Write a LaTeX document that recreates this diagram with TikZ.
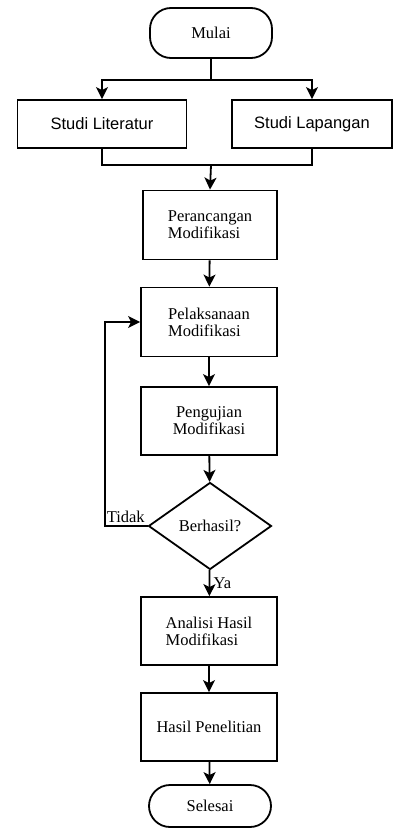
\documentclass[tikz,border=0pt]{standalone}
\usepackage{fontspec}
\setmainfont{Liberation Serif}
\newfontfamily\arialfont{Liberation Sans}
\usetikzlibrary{shapes.geometric,arrows.meta}

\tikzset{
    flow/.style={line width=1.8pt, -{Stealth[length=12pt,width=12pt,inset=3pt]}},
    proc/.style={draw, line width=1.8pt, align=center, font=\fontsize{16.5}{17}\selectfont},
    term/.style={proc, rounded corners=21pt},
}

\begin{document}
\begin{tikzpicture}[x=1pt, y=-1pt]
    \useasboundingbox (0,0) rectangle (393,830);
    % start
    \node[term, minimum width=122pt, minimum height=50pt] (mulai) at (211,33) {Mulai};
    \node[proc, minimum width=169pt, minimum height=48pt, font=\arialfont\fontsize{16.5}{18}\selectfont] (lit) at (102,124) {Studi Literatur};
    \node[proc, minimum width=160pt, minimum height=48pt, font=\arialfont\fontsize{16.5}{18}\selectfont] (lap) at (312,124) {Studi Lapangan};
    \coordinate (split) at (211,80);
    \coordinate (join) at (211,165);
    % main column
    \node[proc, align=left, minimum width=134pt, minimum height=69pt] (per) at (210,225) {Perancangan\\Modifikasi};
    \node[proc, align=left, minimum width=136pt, minimum height=69pt] (pel) at (209,322) {Pelaksanaan\\Modifikasi};
    \node[proc, minimum width=136pt, minimum height=68pt] (pen) at (209,421) {Pengujian\\Modifikasi};
    \node[proc, diamond, aspect=1.4, inner sep=1pt, minimum width=123pt, minimum height=87pt] (ber) at (210,526) {Berhasil?};
    \node[proc, align=left, minimum width=136pt, minimum height=68pt] (ana) at (209,631) {Analisi Hasil\\Modifikasi};
    \node[proc, minimum width=136pt, minimum height=68pt] (has) at (209,727) {Hasil Penelitian};
    \node[term, minimum width=122pt, minimum height=42pt] (sel) at (210,806) {Selesai};
    % connectors
    \draw[line width=1.8pt] (mulai.south) -- (split);
    \draw[flow] (split) -| (lit.north);
    \draw[flow] (split) -| (lap.north);
    \draw[line width=1.8pt] (lit.south) |- (join) -| (lap.south);
    \draw[flow] (join) -- (per.north);
    \draw[flow] (per) -- (pel);
    \draw[flow] (pel) -- (pen);
    \draw[flow] (pen) -- (ber);
    \draw[flow] (ber) -- node[right, font=\fontsize{16.5}{17}\selectfont] {Ya} (ana);
    \draw[flow] (ana) -- (has);
    \draw[flow] (has) -- (sel);
    \draw[flow] (ber.west) node[above left, inner sep=2pt, font=\fontsize{16.5}{17}\selectfont] {Tidak} -- (105,526) |- (pel.west);
\end{tikzpicture}
\end{document}
